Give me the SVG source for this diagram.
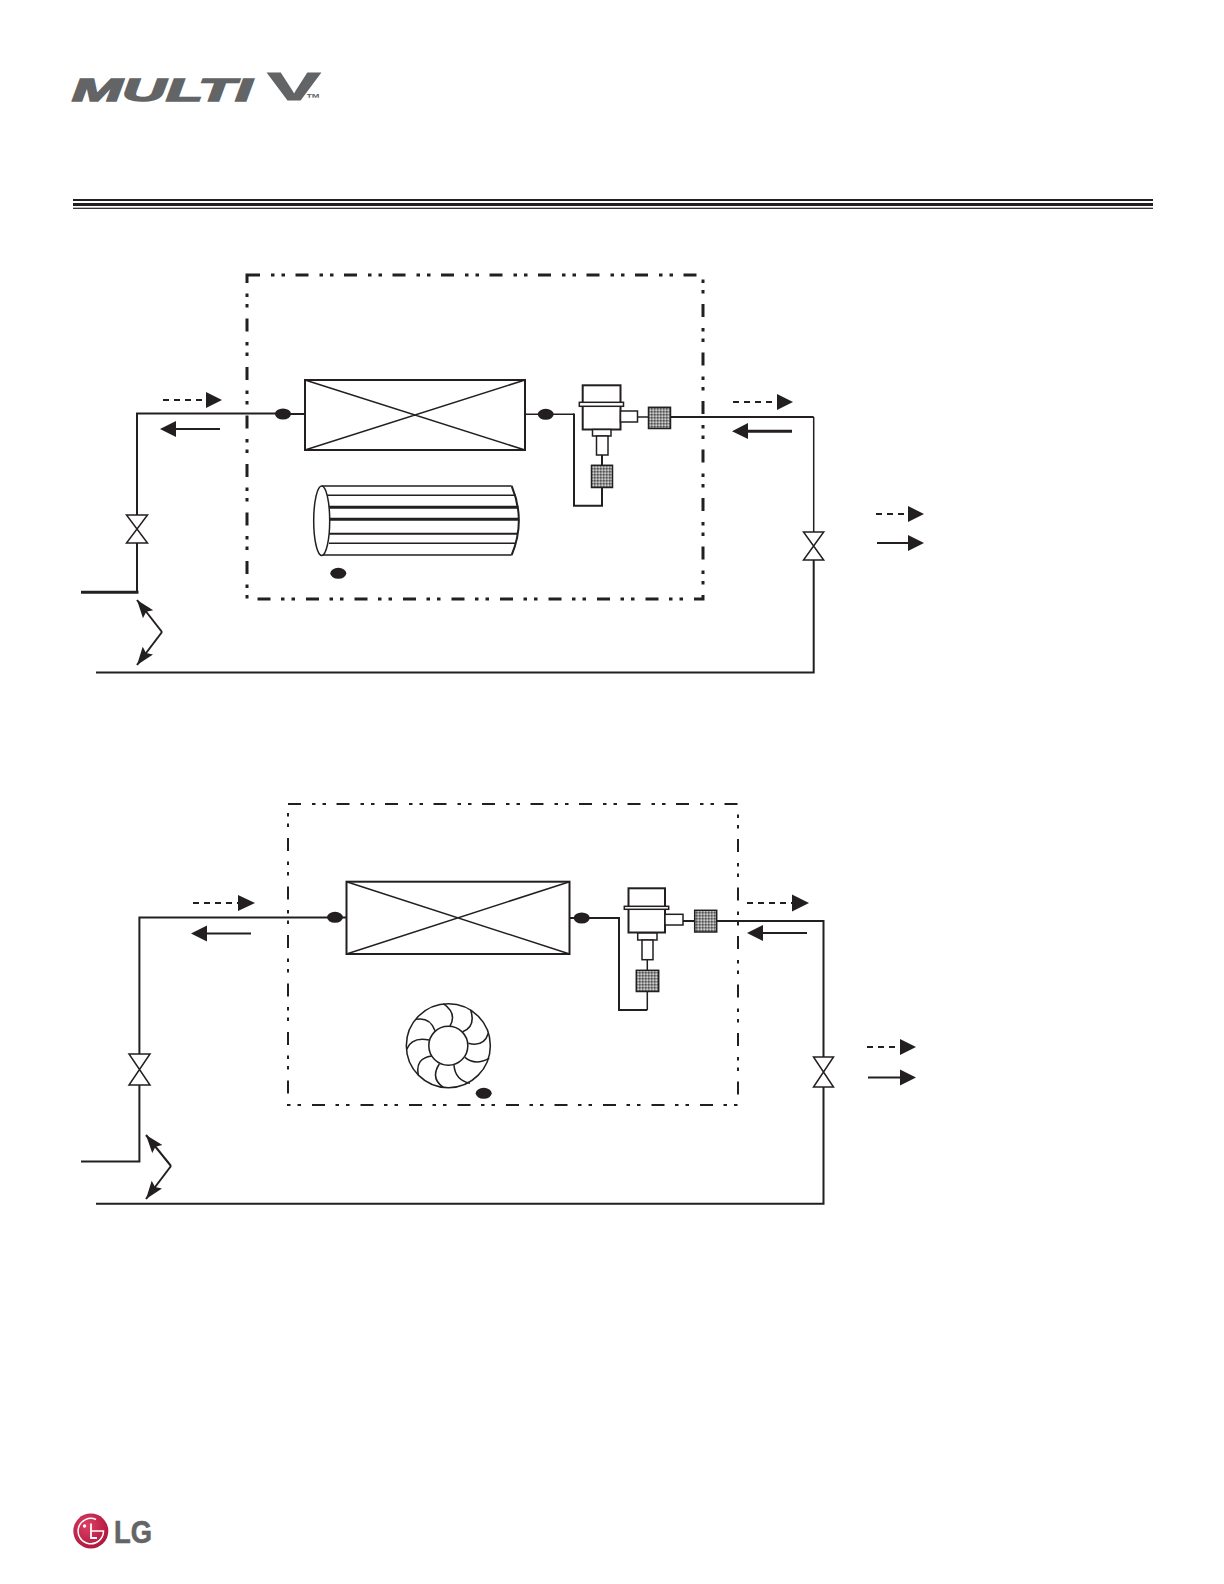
<svg xmlns="http://www.w3.org/2000/svg" width="1224" height="1584" viewBox="0 0 1224 1584">
<style>
.p{fill:none;stroke:#231f20;stroke-linejoin:miter}
.t1{stroke-width:1.5}.t2{stroke-width:2}.t3{stroke-width:3}
.d{stroke-dasharray:6 5}
.o{fill:#fff;stroke:#231f20;stroke-width:1.5}
.b{fill:#fff;stroke:#231f20;stroke-width:2}
.h{fill:url(#hatch);stroke:#231f20;stroke-width:1.5}
.n{fill:#231f20}
.logo{fill:#636466;font-family:"Liberation Sans",Arial,sans-serif;font-weight:700}
</style>
<defs>
<pattern id="hatch" width="3" height="3" patternUnits="userSpaceOnUse"><rect width="3" height="3" fill="#8f8f8f"/><rect width="1.5" height="1.5" fill="#555"/><rect x="1.5" y="1.5" width="1.5" height="1.5" fill="#cfcfcf"/></pattern>
<marker id="as" markerUnits="userSpaceOnUse" markerWidth="20" markerHeight="14" refX="18" refY="6.5" orient="auto"><path d="M0 0L18 6.5L0 13L3 6.5Z" fill="#231f20"/></marker>
<radialGradient id="red" cx="0.4" cy="0.35" r="0.8"><stop offset="0" stop-color="#dd3f66"/><stop offset="1" stop-color="#a50f35"/></radialGradient>
</defs>

<g id="header-logo">
<text class="logo" x="72" y="100.7" font-size="31" font-style="italic" stroke="#636466" stroke-width="1.6" textLength="180" lengthAdjust="spacingAndGlyphs">MULTI</text>
<text class="logo" x="267.5" y="100" font-size="39" stroke="#636466" stroke-width="1" textLength="53" lengthAdjust="spacingAndGlyphs">V</text>
<text class="logo" x="306" y="101.5" font-size="12" textLength="15" lengthAdjust="spacingAndGlyphs">™</text>
</g>
<g id="header-rule">
<rect x="73" y="199" width="1080" height="2" class="n"/><rect x="73" y="203" width="1080" height="3" class="n"/><rect x="73" y="207.7" width="1080" height="1.2" class="n"/>
</g>

<g id="unit-1-boundary"><rect x="247" y="275" width="456" height="324" class="p t3" stroke-dasharray="13 11 3.5 7 3.5 10.5"/></g>
<g id="unit-2-boundary"><rect x="288" y="804" width="450" height="301" class="p t2" stroke-dasharray="13 11 3.5 7 3.5 10.5"/></g>

<g id="connectors">
<path class="p t2" d="M305 414H276"/>
<path class="p t2" d="M276 413.5H137V515M137 543V592.3"/>
<path class="p t3" d="M138.5 592.3H81"/>
<path class="p t1" d="M525 414.3H574"/>
<path class="p t2" d="M574 413.5V505.7H602V487.5M602 465.3V455"/>
<path class="p t1" d="M637.5 417H648.5"/>
<path class="p t2" d="M670.5 417H813.7"/>
<path class="p t1" d="M813.7 417V532"/>
<path class="p t2" d="M813.7 560V672.6H96"/>
<path class="p d t2" d="M163 400H205"/><path class="n" d="M206 392L222 400L206 408Z"/>
<path class="p t2" d="M220 429H176"/><path class="n" d="M176 421L160 429L176 437Z"/>
<path class="p d t2" d="M733 402H778"/><path class="n" d="M777 394L793 402L777 410Z"/>
<path class="p t3" d="M792 431.3H748"/><path class="n" d="M748 423L732 431.3L748 439Z"/>
<path class="p d t2" d="M876 514H908"/><path class="n" d="M908 506L924 514L908 522Z"/>
<path class="p t2" d="M877 543H908"/><path class="n" d="M908 535L924 543L908 551Z"/>
<path class="p t2" d="M162 632L137 600" marker-end="url(#as)"/><path class="p t2" d="M162 632L137 665" marker-end="url(#as)"/>

<path class="p t2" d="M346.5 917.5H139.4V1054M139.4 1085V1161.5H81"/>
<path class="p t2" d="M569.6 918H619V1010H647.3"/>
<path class="p t1" d="M647.3 1010V991.5M647.3 970.3V959.7"/>
<path class="p t2" d="M683 921H694.7M716.7 921H823.5V1057M823.5 1087V1203.8H96"/>
<path class="p d t2" d="M193 903H238"/><path class="n" d="M238 895L255 903L238 911Z"/>
<path class="p t2" d="M251 933.5H207"/><path class="n" d="M207 925.5L191 933.5L207 941.5Z"/>
<path class="p d t2" d="M747 903H793"/><path class="n" d="M792 894.5L809 903L792 911.5Z"/>
<path class="p t2" d="M807 933H763"/><path class="n" d="M763 925L747 933L763 941Z"/>
<path class="p d t2" d="M867 1047H900"/><path class="n" d="M900 1039L916 1047L900 1055Z"/>
<path class="p t2" d="M868 1077.5H900"/><path class="n" d="M900 1069.5L916 1077.5L900 1085.5Z"/>
<path class="p t2" d="M171 1166L146 1135" marker-end="url(#as)"/><path class="p t2" d="M171 1166L146 1199" marker-end="url(#as)"/>
</g>

<g id="coil-1"><rect x="305" y="380" width="220" height="70" class="p t2"/><path class="p t1" d="M305 380L525 450M305 450L525 380"/></g>
<g id="coil-2"><rect x="346.5" y="881.7" width="223" height="72.3" class="p t2"/><path class="p t1" d="M346.5 881.7L569.6 954M346.5 954L569.6 881.7"/></g>

<g id="sensors">
<ellipse cx="283" cy="414" rx="8" ry="5.5" class="n"/>
<ellipse cx="545.7" cy="414.3" rx="8" ry="5.5" class="n"/>
<ellipse cx="338.3" cy="573.3" rx="8" ry="5.5" class="n"/>
<ellipse cx="335" cy="917.3" rx="8" ry="5.5" class="n"/>
<ellipse cx="581.7" cy="918" rx="8" ry="5.5" class="n"/>
<ellipse cx="483.7" cy="1093.3" rx="8" ry="5.5" class="n"/>
</g>

<g id="eev-1">
<rect x="582.7" y="385.3" width="37.8" height="44.2" class="b"/>
<rect x="579.3" y="402.3" width="44.2" height="4" class="o"/>
<rect x="592.5" y="429.5" width="18.5" height="6.5" class="o"/>
<rect x="596.5" y="436" width="11.5" height="19" class="o"/>
<rect x="620.5" y="411" width="17" height="11" class="o"/>
<rect x="591.5" y="465.3" width="21" height="22.2" class="h"/>
<rect x="648.5" y="407.3" width="22" height="21.2" class="h"/>
</g>
<g id="eev-2">
<rect x="628.5" y="888.3" width="36.5" height="44.2" class="b"/>
<rect x="624.3" y="906.3" width="44.4" height="3" class="o"/>
<rect x="637.7" y="933" width="19.3" height="7" class="o"/>
<rect x="642" y="940" width="11" height="19.7" class="o"/>
<rect x="665" y="914.3" width="18" height="10.7" class="o"/>
<rect x="636.3" y="970.3" width="22.4" height="21.2" class="h"/>
<rect x="694.7" y="910.3" width="22" height="21.7" class="h"/>
</g>

<g id="service-valves" class="p t1">
<path d="M126.5 515H147.5L126.5 543H147.5Z"/>
<path d="M803.5 532H823.7L803.5 560H823.7Z"/>
<path d="M129 1054H150L129 1085H150Z"/>
<path d="M813.5 1057H833.5L813.5 1087H833.5Z"/>
</g>

<g id="fan-1">
<path class="p t1" d="M321.7 486H511.7M321.7 555H511.7"/>
<path class="p" stroke-width="2" d="M511.7 486Q526 520.5 511.7 555"/>
<path class="p t1" d="M326 495.3H515.5M329 543.3H515.5"/>
<path class="p t3" d="M329 507.3H518.5M329 519.3H518.5"/>
<path class="p t2" d="M329 533.7H517.5"/>
<ellipse cx="321.7" cy="520.7" rx="8" ry="34.7" class="o"/>
</g>
<g id="fan-2" transform="translate(380 980) scale(0.3333)" fill="none" stroke="#231f20" stroke-width="4.6">
<circle cx="205" cy="197" r="126"/>
<circle cx="205" cy="197" r="58.5"/>
<path d="M190 71Q232 100 210 138M272 90Q288 140 248 155M325 160Q312 202 265 190M328 235Q285 258 255 232M270 310Q225 300 222 255M190 322Q150 295 178 252M115 285Q105 235 155 228M80 208Q95 170 147 180M108 118Q150 110 165 152"/>
</g>

<g id="footer-logo">
<circle cx="90.8" cy="1531" r="17.5" fill="url(#red)"/>
<path d="M96 1519.5A12.7 12.7 0 1 0 103.5 1531H92" fill="none" stroke="#fff" stroke-width="1.5"/>
<path d="M91 1523.5V1538H97" fill="none" stroke="#fff" stroke-width="1.8"/>
<circle cx="84.5" cy="1526" r="1.7" fill="#fff"/>
<text class="logo" x="114" y="1543" font-size="31" stroke="#636466" stroke-width="0.6" textLength="38" lengthAdjust="spacingAndGlyphs">LG</text>
</g>
</svg>
